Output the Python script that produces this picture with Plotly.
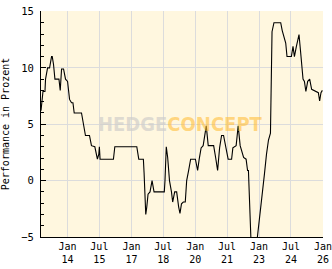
import plotly.graph_objects as go

dates = [
    "2012-10-02", "2012-10-12", "2012-11-05", "2012-12-09", "2012-12-19",
    "2013-01-23", "2013-02-26", "2013-04-01", "2013-04-13", "2013-05-05",
    "2013-05-29", "2013-08-06", "2013-08-28", "2013-09-20", "2013-10-24",
    "2013-11-27", "2014-01-01", "2014-02-04", "2014-03-10", "2014-04-03",
    "2014-04-25", "2014-08-28", "2014-10-01", "2014-11-04", "2015-01-12",
    "2015-02-15", "2015-04-14", "2015-05-06", "2015-05-28", "2015-06-21",
    "2015-07-01", "2015-07-13", "2016-02-27", "2016-03-22", "2017-04-03",
    "2017-05-07", "2017-07-25", "2017-08-06", "2017-08-23", "2017-09-04",
    "2017-09-21", "2017-10-13", "2017-11-16", "2017-12-21", "2018-01-24",
    "2018-07-19", "2018-07-31", "2018-08-22", "2018-09-15", "2018-10-16",
    "2018-11-19", "2018-12-10", "2019-01-13", "2019-02-16", "2019-03-23",
    "2019-04-14", "2019-05-10", "2019-06-10", "2019-07-14", "2019-08-07",
    "2019-09-10", "2019-10-14", "2020-01-04", "2020-02-11", "2020-03-09",
    "2020-04-11", "2020-05-16", "2020-06-03", "2020-07-08", "2020-08-11",
    "2020-11-12", "2020-12-16", "2021-01-19", "2021-02-22", "2021-03-28",
    "2021-05-01", "2021-06-04", "2021-07-19", "2021-09-16", "2021-10-08",
    "2021-12-03", "2022-01-07", "2022-02-10", "2022-04-10", "2022-05-23",
    "2022-06-17", "2022-07-02", "2022-07-20", "2022-08-16", "2022-11-22",
    "2023-01-01", "2023-02-16", "2023-04-03", "2023-05-08", "2023-06-11",
    "2023-07-15", "2023-07-25", "2023-08-11", "2023-09-13", "2024-01-07",
    "2024-02-02", "2024-02-27", "2024-04-02", "2024-04-24", "2024-07-08",
    "2024-08-05", "2024-08-29", "2024-10-02", "2024-11-02", "2024-11-16",
    "2024-12-10", "2025-01-02", "2025-01-24", "2025-02-17", "2025-03-14",
    "2025-04-14", "2025-05-18", "2025-06-21", "2025-09-10", "2025-10-14",
    "2025-11-05", "2025-11-28", "2025-12-22",
]
performance = [
    6.2, 6.9, 7.9, 7.9, 9.0,
    10.0, 10.0, 11.0, 11.0, 10.3,
    9.0, 9.0, 8.0, 9.9, 9.9,
    9.0, 8.8, 7.2, 6.9, 6.9,
    6.0, 6.0, 4.9, 4.0, 4.0,
    3.1, 3.0, 2.4, 1.9, 2.35,
    3.0, 1.9, 1.9, 3.0, 3.0,
    1.9, 1.9, 0.7, -1.8, -3.0,
    -2.35, -1.2, -1.0, 0.0, -1.0,
    -1.0, 0.0, 3.0, 2.05, 0.0,
    -1.0, -1.9, -1.0, -1.0, -2.35,
    -2.9, -2.06, -1.9, -1.9, 0.0,
    0.9, 1.9, 1.9, 0.9, 1.9,
    2.9, 3.1, 3.8, 4.85, 3.1,
    3.1, 2.05, 0.9, 2.9, 4.0,
    4.0, 3.1, 1.9, 1.9, 2.9,
    3.1, 4.85, 3.1, 2.05, 1.9,
    0.9, 0.9, -3.0, -5.5, -5.5,
    -3.8, -1.5, 0.6, 2.35, 3.6,
    4.2, 8.4, 13.2, 14.0, 14.0,
    13.3, 12.9, 12.2, 11.0, 11.0,
    11.9, 11.0, 11.9, 12.6, 12.95,
    11.6, 10.0, 9.0, 8.8, 7.9,
    8.8, 9.0, 8.1, 7.9, 7.8,
    7.06, 7.8, 8.0,
]

x_tick_dates = ["2014-01-01", "2015-07-01", "2017-01-01", "2018-07-01", "2020-01-01",
                "2021-07-01", "2023-01-01", "2024-07-01", "2026-01-01"]
x_tick_labels = ["Jan<br>14", "Jul<br>15", "Jan<br>17", "Jul<br>18", "Jan<br>20",
                 "Jul<br>21", "Jan<br>23", "Jul<br>24", "Jan<br>26"]
y_ticks = [-5, 0, 5, 10, 15]

font_mono = "DejaVu Sans Mono"

fig = go.Figure()
fig.add_trace(go.Scatter(
    x=dates, y=performance, mode="lines",
    line=dict(color="black", width=1.1),
    showlegend=False, hoverinfo="skip",
))

watermark = ("<b><span style='color:rgba(208,206,202,0.7)'>HEDGE</span>"
             "<span style='color:rgba(255,190,60,0.6)'>CONCEPT</span></b>")

fig.update_layout(
    width=332, height=269,
    margin=dict(l=41, r=9, t=11, b=32),
    paper_bgcolor="white",
    plot_bgcolor="#FFF7DF",
    font=dict(family=font_mono, size=10, color="black"),
    xaxis=dict(
        type="date",
        range=["2012-10-02", "2026-01-01 18:00"],
        tickvals=x_tick_dates, ticktext=x_tick_labels,
        showgrid=True, gridcolor="#DCDCDC", gridwidth=1,
        showline=True, linecolor="black", linewidth=1,
        ticks="", zeroline=False, automargin=False,
        ticklabeloverflow="allow",
        tickfont=dict(family=font_mono, size=10),
    ),
    yaxis=dict(
        range=[-5, 15.04],
        tickvals=y_ticks,
        showgrid=True, gridcolor="#DCDCDC", gridwidth=1,
        showline=True, linecolor="black", linewidth=1,
        ticks="inside", ticklen=5, tickcolor="black",
        minor=dict(dtick=1, ticks="inside", ticklen=3, tickcolor="black", showgrid=False),
        zeroline=False, automargin=False,
        ticklabelstandoff=4,
        tickfont=dict(family=font_mono, size=10.5),
        title=dict(text="Performance in Prozent", font=dict(family=font_mono, size=10), standoff=10),
    ),
    annotations=[
        dict(xref="paper", yref="paper", x=0.496, y=0.5, xanchor="center", yanchor="middle",
             text=watermark, showarrow=False,
             font=dict(family="Liberation Sans Narrow, DejaVu Sans Condensed", size=20)),
    ],
)

fig.write_html("out.html")
